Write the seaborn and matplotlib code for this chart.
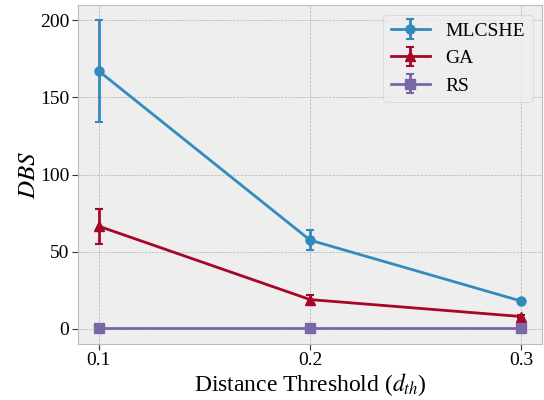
import matplotlib
matplotlib.use("Agg")
import matplotlib.pyplot as plt
import seaborn as sns
import numpy as np

thresholds = [0.1, 0.2, 0.3]
mlcshe = [167.0, 57.5, 18.0]
mlcshe_err = [33.0, 6.5, 0.8]
ga = [66.5, 19.0, 8.0]
ga_err = [11.5, 3.0, 0.8]
rs = [0.5, 0.5, 0.5]
rs_err = [0.3, 0.3, 0.3]
series_names = ["MLCSHE", "GA", "RS"]

plt.style.use("bmh")
sns.set_palette(["#348ABD", "#A60628", "#7A68A6"])
plt.rcParams["font.family"] = ["Liberation Serif", "DejaVu Serif"]
plt.rcParams["mathtext.fontset"] = "stix"

fig, ax = plt.subplots(figsize=(5.44, 4.0), dpi=100)
colors = sns.color_palette()
markers = ["o", "^", "s"]
for name, vals, errs, c, m in zip(series_names, [mlcshe, ga, rs], [mlcshe_err, ga_err, rs_err], colors, markers):
    ax.errorbar(thresholds, vals, yerr=errs, fmt="-", marker=m, color=c, label=name,
                linewidth=2, markersize=6.5, capsize=3, elinewidth=2, capthick=1.5)

ax.set_xticks(thresholds)
ax.set_yticks([0, 50, 100, 150, 200])
ax.set_xlabel("Distance Threshold ($d_{th}$)", fontsize=17, labelpad=1)
ax.set_ylabel("$DBS$", fontsize=18, labelpad=0)
ax.tick_params(labelsize=14, length=4, width=0.8, color="#333333", direction="out", pad=2)
ax.legend(loc="upper right", fontsize=14)
fig.subplots_adjust(left=0.143, right=0.997, top=0.988, bottom=0.14)
fig.savefig("out.png", dpi=100)
